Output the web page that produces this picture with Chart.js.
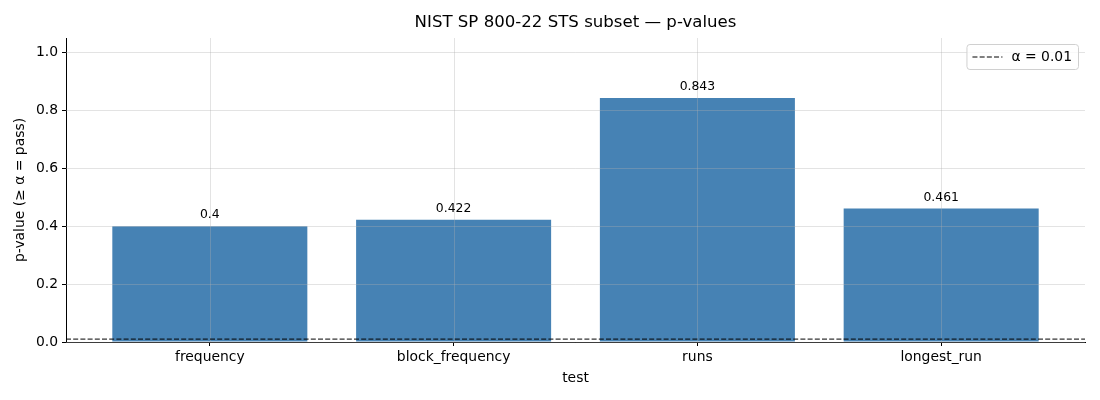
<!DOCTYPE html>
<html>
<head>
<meta charset="utf-8">
<script src="https://cdn.jsdelivr.net/npm/chart.js@4"></script>
<style>
    html, body { margin: 0; padding: 0; background: #fff; }
    #wrap { width: 1100px; height: 400px; }
</style>
</head>
<body>
<div id="wrap"><canvas id="chart"></canvas></div>
<script>
const tests = ['frequency', 'block_frequency', 'runs', 'longest_run'];
const pValues = [0.4, 0.422, 0.843, 0.461];
const alpha = 0.01;
const yTicks = [0, 0.2, 0.4, 0.6, 0.8, 1.0];

const FONT = '"DejaVu Sans", sans-serif';
const BAR_COLOR = '#4682b4';
const GRID_COLOR = 'rgba(176, 176, 176, 0.35)';
const DASH = [5, 2.2];

// grid on top of the bars, then the alpha line, value labels and legend
const overlay = {
    id: 'overlay',
    afterDatasetsDraw(chart) {
        const { ctx, chartArea: a, scales: { x, y } } = chart;
        ctx.save();
        ctx.strokeStyle = GRID_COLOR;
        ctx.lineWidth = 1;
        tests.forEach((t, i) => {
            const px = Math.round(x.getPixelForValue(i)) + 0.5;
            ctx.beginPath(); ctx.moveTo(px, a.top); ctx.lineTo(px, a.bottom); ctx.stroke();
        });
        yTicks.forEach(v => {
            const py = Math.round(y.getPixelForValue(v)) + 0.5;
            ctx.beginPath(); ctx.moveTo(a.left, py); ctx.lineTo(a.right, py); ctx.stroke();
        });

        // alpha threshold
        const ay = y.getPixelForValue(alpha);
        ctx.strokeStyle = '#000';
        ctx.setLineDash(DASH);
        ctx.beginPath(); ctx.moveTo(a.left, ay); ctx.lineTo(a.right, ay); ctx.stroke();
        ctx.setLineDash([]);

        // value labels
        ctx.fillStyle = '#000';
        ctx.font = '12.4px ' + FONT;
        ctx.textAlign = 'center';
        ctx.textBaseline = 'bottom';
        pValues.forEach((v, i) => {
            ctx.fillText(String(v), x.getPixelForValue(i), y.getPixelForValue(v) - 5);
        });

        // legend
        const label = 'α = 0.01';
        ctx.font = '13.9px ' + FONT;
        const tw = ctx.measureText(label).width;
        const bw = 6 + 30 + 9 + tw + 6;
        const bh = 25;
        const bx = a.right - 7 - bw;
        const by = a.top + 6;
        ctx.fillStyle = 'rgba(255,255,255,0.8)';
        ctx.strokeStyle = '#d0d0d0';
        ctx.beginPath();
        ctx.roundRect(bx + 0.5, by + 0.5, bw, bh, 3);
        ctx.fill(); ctx.stroke();
        ctx.strokeStyle = '#000';
        ctx.setLineDash(DASH);
        ctx.beginPath(); ctx.moveTo(bx + 6, by + bh / 2 + 0.5); ctx.lineTo(bx + 36, by + bh / 2 + 0.5); ctx.stroke();
        ctx.setLineDash([]);
        ctx.fillStyle = '#000';
        ctx.textAlign = 'left';
        ctx.textBaseline = 'middle';
        ctx.fillText(label, bx + 45, by + bh / 2 + 1);

        // title
        ctx.font = '16.6px ' + FONT;
        ctx.textAlign = 'center';
        ctx.textBaseline = 'middle';
        ctx.fillText('NIST SP 800-22 STS subset — p-values', (a.left + a.right) / 2, 23);
        ctx.restore();
    }
};

new Chart(document.getElementById('chart'), {
    type: 'bar',
    data: {
        datasets: [{
            label: 'p-value',
            data: pValues.map((v, i) => ({ x: i, y: v })),
            backgroundColor: BAR_COLOR,
            barPercentage: 0.8,
            categoryPercentage: 1.0
        }]
    },
    options: {
        responsive: true,
        maintainAspectRatio: false,
        animation: false,
        layout: { padding: { top: 38, right: 15, left: 0, bottom: 0 } },
        plugins: {
            legend: { display: false },
            tooltip: { enabled: false }
        },
        scales: {
            x: {
                type: 'linear',
                offset: false,
                min: -0.59,
                max: tests.length - 1 + 0.59,
                afterBuildTicks: s => { s.ticks = tests.map((t, i) => ({ value: i })); },
                afterFit: s => { s.height = 58; },
                ticks: {
                    callback: v => tests[v],
                    color: '#000',
                    font: { family: FONT, size: 13.9 },
                    padding: 3,
                    maxRotation: 0,
                    autoSkip: false
                },
                grid: { offset: false, drawOnChartArea: false, color: '#000', tickLength: 4 },
                border: { color: '#000', width: 1 },
                title: {
                    display: true,
                    text: 'test',
                    color: '#000',
                    font: { family: FONT, size: 13.9 },
                    padding: { top: 0, bottom: 13 }
                }
            },
            y: {
                min: 0,
                max: 1.05,
                afterBuildTicks: s => { s.ticks = yTicks.map(v => ({ value: v })); },
                afterFit: s => { s.width = 66; },
                ticks: {
                    callback: v => v.toFixed(1),
                    color: '#000',
                    font: { family: FONT, size: 13.9 },
                    padding: 4
                },
                grid: { drawOnChartArea: false, color: '#000', tickLength: 4 },
                border: { color: '#000', width: 1 },
                title: {
                    display: true,
                    text: 'p-value (≥ α = pass)',
                    color: '#000',
                    font: { family: FONT, size: 13.9 },
                    padding: { top: 12, bottom: 0 }
                }
            }
        }
    },
    plugins: [overlay]
});
</script>
</body>
</html>
